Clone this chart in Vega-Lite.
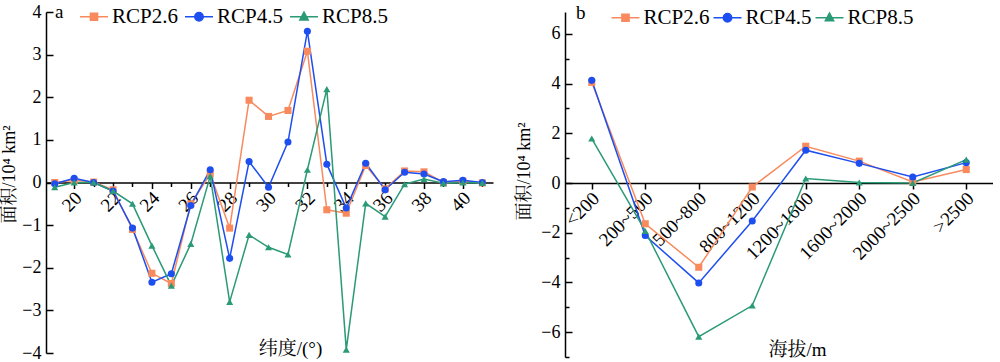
{
  "$schema": "https://vega.github.io/schema/vega-lite/v6.json",
  "background": "white",
  "padding": {"left": 0, "top": 3, "right": 0, "bottom": 0},
  "spacing": 21,
  "config": {
    "view": {"stroke": null},
    "font": "Liberation Serif, Times New Roman, DejaVu Serif, serif",
    "axis": {
      "labelFont": "Liberation Serif, Times New Roman, DejaVu Serif, serif",
      "labelFontSize": 18,
      "labelColor": "black",
      "labelOverlap": false,
      "labelFlush": false,
      "titleFont": "Liberation Serif, Times New Roman, Noto Serif CJK SC, Noto Sans CJK SC, serif",
      "titleFontSize": 18,
      "titleFontWeight": "normal",
      "titleColor": "black",
      "domainColor": "black",
      "domainWidth": 1.5,
      "tickColor": "black",
      "tickWidth": 1.5,
      "grid": false
    },
    "legend": {"labelFont": "Liberation Serif, Times New Roman, DejaVu Serif, serif"},
    "title": {"font": "Liberation Serif, Times New Roman, DejaVu Serif, serif", "fontSize": 19, "fontWeight": "normal", "color": "black", "anchor": "start", "frame": "group"}
  },
  "datasets": {
    "lat": [
      {"lat": 19, "s": "RCP2.6", "v": 0.0}, {"lat": 19, "s": "RCP4.5", "v": -0.03}, {"lat": 19, "s": "RCP8.5", "v": -0.11},
      {"lat": 20, "s": "RCP2.6", "v": 0.05}, {"lat": 20, "s": "RCP4.5", "v": 0.1}, {"lat": 20, "s": "RCP8.5", "v": 0.0},
      {"lat": 21, "s": "RCP2.6", "v": 0.01}, {"lat": 21, "s": "RCP4.5", "v": 0.0}, {"lat": 21, "s": "RCP8.5", "v": 0.0},
      {"lat": 22, "s": "RCP2.6", "v": -0.17}, {"lat": 22, "s": "RCP4.5", "v": -0.2}, {"lat": 22, "s": "RCP8.5", "v": -0.2},
      {"lat": 23, "s": "RCP2.6", "v": -1.1}, {"lat": 23, "s": "RCP4.5", "v": -1.07}, {"lat": 23, "s": "RCP8.5", "v": -0.5},
      {"lat": 24, "s": "RCP2.6", "v": -2.13}, {"lat": 24, "s": "RCP4.5", "v": -2.34}, {"lat": 24, "s": "RCP8.5", "v": -1.48},
      {"lat": 25, "s": "RCP2.6", "v": -2.37}, {"lat": 25, "s": "RCP4.5", "v": -2.14}, {"lat": 25, "s": "RCP8.5", "v": -2.42},
      {"lat": 26, "s": "RCP2.6", "v": -0.5}, {"lat": 26, "s": "RCP4.5", "v": -0.54}, {"lat": 26, "s": "RCP8.5", "v": -1.44},
      {"lat": 27, "s": "RCP2.6", "v": 0.2}, {"lat": 27, "s": "RCP4.5", "v": 0.3}, {"lat": 27, "s": "RCP8.5", "v": 0.15},
      {"lat": 28, "s": "RCP2.6", "v": -1.07}, {"lat": 28, "s": "RCP4.5", "v": -1.78}, {"lat": 28, "s": "RCP8.5", "v": -2.8},
      {"lat": 29, "s": "RCP2.6", "v": 1.93}, {"lat": 29, "s": "RCP4.5", "v": 0.49}, {"lat": 29, "s": "RCP8.5", "v": -1.23},
      {"lat": 30, "s": "RCP2.6", "v": 1.55}, {"lat": 30, "s": "RCP4.5", "v": -0.11}, {"lat": 30, "s": "RCP8.5", "v": -1.52},
      {"lat": 31, "s": "RCP2.6", "v": 1.69}, {"lat": 31, "s": "RCP4.5", "v": 0.95}, {"lat": 31, "s": "RCP8.5", "v": -1.69},
      {"lat": 32, "s": "RCP2.6", "v": 3.08}, {"lat": 32, "s": "RCP4.5", "v": 3.55}, {"lat": 32, "s": "RCP8.5", "v": 0.3},
      {"lat": 33, "s": "RCP2.6", "v": -0.64}, {"lat": 33, "s": "RCP4.5", "v": 0.43}, {"lat": 33, "s": "RCP8.5", "v": 2.19},
      {"lat": 34, "s": "RCP2.6", "v": -0.72}, {"lat": 34, "s": "RCP4.5", "v": -0.6}, {"lat": 34, "s": "RCP8.5", "v": -3.92},
      {"lat": 35, "s": "RCP2.6", "v": 0.4}, {"lat": 35, "s": "RCP4.5", "v": 0.45}, {"lat": 35, "s": "RCP8.5", "v": -0.49},
      {"lat": 36, "s": "RCP2.6", "v": -0.15}, {"lat": 36, "s": "RCP4.5", "v": -0.17}, {"lat": 36, "s": "RCP8.5", "v": -0.8},
      {"lat": 37, "s": "RCP2.6", "v": 0.27}, {"lat": 37, "s": "RCP4.5", "v": 0.24}, {"lat": 37, "s": "RCP8.5", "v": -0.04},
      {"lat": 38, "s": "RCP2.6", "v": 0.25}, {"lat": 38, "s": "RCP4.5", "v": 0.2}, {"lat": 38, "s": "RCP8.5", "v": 0.08},
      {"lat": 39, "s": "RCP2.6", "v": 0.0}, {"lat": 39, "s": "RCP4.5", "v": 0.02}, {"lat": 39, "s": "RCP8.5", "v": -0.02},
      {"lat": 40, "s": "RCP2.6", "v": 0.03}, {"lat": 40, "s": "RCP4.5", "v": 0.05}, {"lat": 40, "s": "RCP8.5", "v": 0.0},
      {"lat": 41, "s": "RCP2.6", "v": -0.01}, {"lat": 41, "s": "RCP4.5", "v": 0.0}, {"lat": 41, "s": "RCP8.5", "v": -0.01}
    ],
    "elev": [
      {"e": "<200", "s": "RCP2.6", "v": 4.05}, {"e": "<200", "s": "RCP4.5", "v": 4.13}, {"e": "<200", "s": "RCP8.5", "v": 1.79},
      {"e": "200~500", "s": "RCP2.6", "v": -1.64}, {"e": "200~500", "s": "RCP4.5", "v": -2.11}, {"e": "200~500", "s": "RCP8.5", "v": -1.93},
      {"e": "500~800", "s": "RCP2.6", "v": -3.39}, {"e": "500~800", "s": "RCP4.5", "v": -4.02}, {"e": "500~800", "s": "RCP8.5", "v": -6.18},
      {"e": "800~1200", "s": "RCP2.6", "v": -0.16}, {"e": "800~1200", "s": "RCP4.5", "v": -1.53}, {"e": "800~1200", "s": "RCP8.5", "v": -4.93},
      {"e": "1200~1600", "s": "RCP2.6", "v": 1.48}, {"e": "1200~1600", "s": "RCP4.5", "v": 1.32}, {"e": "1200~1600", "s": "RCP8.5", "v": 0.18},
      {"e": "1600~2000", "s": "RCP2.6", "v": 0.88}, {"e": "1600~2000", "s": "RCP4.5", "v": 0.79}, {"e": "1600~2000", "s": "RCP8.5", "v": 0.02},
      {"e": "2000~2500", "s": "RCP2.6", "v": 0.04}, {"e": "2000~2500", "s": "RCP4.5", "v": 0.24}, {"e": "2000~2500", "s": "RCP8.5", "v": 0.0},
      {"e": ">2500", "s": "RCP2.6", "v": 0.54}, {"e": ">2500", "s": "RCP4.5", "v": 0.82}, {"e": ">2500", "s": "RCP8.5", "v": 0.94}
    ]
  },
  "resolve": {"legend": {"color": "independent"}},
  "hconcat": [
    {
      "width": 447,
      "height": 341,
      "data": {"name": "lat"},
      "title": {"text": "a", "offset": -19, "dx": 9},
      "encoding": {
        "x": {
          "field": "lat", "type": "quantitative",
          "scale": {"domain": [18.55, 41.55], "nice": false, "zero": false},
          "axis": {
            "values": [19, 20, 21, 22, 23, 24, 25, 26, 27, 28, 29, 30, 31, 32, 33, 34, 35, 36, 37, 38, 39, 40, 41],
            "offset": -170.5,
            "format": "d",
            "labelExpr": "datum.value % 2 === 0 ? datum.label : ''",
            "labelFontSize": 19,
            "labelAngle": -45, "labelAlign": "right", "labelBaseline": "middle", "labelOffset": 4,
            "tickSize": {"condition": {"test": "datum.value % 2 !== 0", "value": 4}, "value": 6},
            "labelPadding": 6,
            "title": "纬度/(°)", "titleFontSize": 19, "titleX": 244, "titleY": 165.5, "titleBaseline": "middle", "titleAlign": "center"
          }
        },
        "y": {
          "field": "v", "type": "quantitative",
          "scale": {"domain": [-4, 4], "nice": false},
          "axis": {
            "values": [-4, -3.5, -3, -2.5, -2, -1.5, -1, -0.5, 0, 0.5, 1, 1.5, 2, 2.5, 3, 3.5, 4],
            "format": "d",
            "labelExpr": "datum.value % 1 === 0 ? datum.label : ''",
            "tickSize": {"condition": {"test": "datum.value % 1 !== 0", "value": -4}, "value": -7},
            "labelPadding": 12,
            "title": "面积/10⁴ km²", "titlePadding": 3, "titleY": 162
          }
        }
      },
      "layer": [
        {
          "mark": {"type": "line", "strokeWidth": 1.5},
          "encoding": {
            "color": {
              "field": "s", "type": "nominal",
              "scale": {"domain": ["RCP2.6", "RCP4.5", "RCP8.5"], "range": ["#F88A5E", "#1D4EF0", "#2B9A77"]},
              "legend": {
                "orient": "none", "legendX": 36.5, "legendY": -7, "direction": "horizontal", "title": null,
                "labelFontSize": 21, "labelColor": "black",
                "symbolSize": 441, "labelOffset": 6.5, "columnPadding": 3, "padding": 0,
                "encode": {"symbols": {"update": {
                  "shape": {"signal": "datum.value === 'RCP2.6' ? 'M-1.333,0H1.333M-0.34,-0.34H0.34V0.34H-0.34Z' : datum.value === 'RCP4.5' ? 'M-1.333,0H1.333M-0.4,0A0.4,0.4 0 1,0 0.4,0A0.4,0.4 0 1,0 -0.4,0Z' : 'M-1.333,0H1.333M0,-0.45L0.4,0.3H-0.4Z'"},
                  "fill": {"signal": "datum.value === 'RCP2.6' ? '#F88A5E' : datum.value === 'RCP4.5' ? '#1D4EF0' : '#2B9A77'"},
                  "stroke": {"signal": "datum.value === 'RCP2.6' ? '#F88A5E' : datum.value === 'RCP4.5' ? '#1D4EF0' : '#2B9A77'"},
                  "strokeWidth": {"value": 1.5},
                  "opacity": {"value": 1}
                }}}
              }
            }
          }
        },
        {
          "mark": {"type": "point", "filled": true, "opacity": 1},
          "encoding": {
            "color": {"field": "s", "type": "nominal", "scale": {"domain": ["RCP2.6", "RCP4.5", "RCP8.5"], "range": ["#F88A5E", "#1D4EF0", "#2B9A77"]}, "legend": null},
            "shape": {"field": "s", "type": "nominal", "scale": {"domain": ["RCP2.6", "RCP4.5", "RCP8.5"], "range": ["square", "circle", "triangle-up"]}, "legend": null},
            "size": {"value": 50}
          }
        }
      ]
    },
    {
      "width": 428,
      "height": 345,
      "data": {"name": "elev"},
      "title": {"text": "b", "offset": -20, "dx": 11},
      "encoding": {
        "x": {
          "field": "e", "type": "ordinal",
          "scale": {"type": "point", "padding": 0.5, "domain": ["<200", "200~500", "500~800", "800~1200", "1200~1600", "1600~2000", "2000~2500", ">2500"]},
          "axis": {
            "offset": -174,
            "labelFontSize": 19,
            "labelAngle": -45, "labelAlign": "right", "labelBaseline": "middle", "labelOffset": 4,
            "tickSize": 6, "labelPadding": 6,
            "title": "海拔/m", "titleFontSize": 19, "titleX": 232, "titleY": 166, "titleBaseline": "middle", "titleAlign": "center"
          }
        },
        "y": {
          "field": "v", "type": "quantitative",
          "scale": {"domain": [-7, 6.88], "nice": false},
          "axis": {
            "values": [-7, -6, -5, -4, -3, -2, -1, 0, 1, 2, 3, 4, 5, 6],
            "format": "d",
            "labelExpr": "datum.value % 2 === 0 ? datum.label : ''",
            "labelFontSize": {"condition": {"test": "datum.value % 2 !== 0", "value": 1}, "value": 18},
            "tickSize": {"condition": {"test": "datum.value % 2 !== 0", "value": -4}, "value": -7},
            "labelPadding": 12,
            "title": "面积/10⁴ km²", "titlePadding": 7, "titleY": 159
          }
        }
      },
      "layer": [
        {
          "mark": {"type": "line", "strokeWidth": 1.5},
          "encoding": {
            "color": {
              "field": "s", "type": "nominal",
              "scale": {"domain": ["RCP2.6", "RCP4.5", "RCP8.5"], "range": ["#F88A5E", "#1D4EF0", "#2B9A77"]},
              "legend": {
                "orient": "none", "legendX": 46, "legendY": -9, "direction": "horizontal", "title": null,
                "labelFontSize": 21, "labelColor": "black",
                "symbolSize": 729, "labelOffset": 3.5, "columnPadding": 0, "padding": 0,
                "encode": {"symbols": {"update": {
                  "shape": {"signal": "datum.value === 'RCP2.6' ? 'M-1.037,0H1.037M-0.267,-0.267H0.267V0.267H-0.267Z' : datum.value === 'RCP4.5' ? 'M-1.037,0H1.037M-0.31,0A0.31,0.31 0 1,0 0.31,0A0.31,0.31 0 1,0 -0.31,0Z' : 'M-1.037,0H1.037M0,-0.35L0.31,0.23H-0.31Z'"},
                  "fill": {"signal": "datum.value === 'RCP2.6' ? '#F88A5E' : datum.value === 'RCP4.5' ? '#1D4EF0' : '#2B9A77'"},
                  "stroke": {"signal": "datum.value === 'RCP2.6' ? '#F88A5E' : datum.value === 'RCP4.5' ? '#1D4EF0' : '#2B9A77'"},
                  "strokeWidth": {"value": 1.5},
                  "opacity": {"value": 1}
                }}}
              }
            }
          }
        },
        {
          "mark": {"type": "point", "filled": true, "opacity": 1},
          "encoding": {
            "color": {"field": "s", "type": "nominal", "scale": {"domain": ["RCP2.6", "RCP4.5", "RCP8.5"], "range": ["#F88A5E", "#1D4EF0", "#2B9A77"]}, "legend": null},
            "shape": {"field": "s", "type": "nominal", "scale": {"domain": ["RCP2.6", "RCP4.5", "RCP8.5"], "range": ["square", "circle", "triangle-up"]}, "legend": null},
            "size": {"value": 50}
          }
        }
      ]
    }
  ]
}
